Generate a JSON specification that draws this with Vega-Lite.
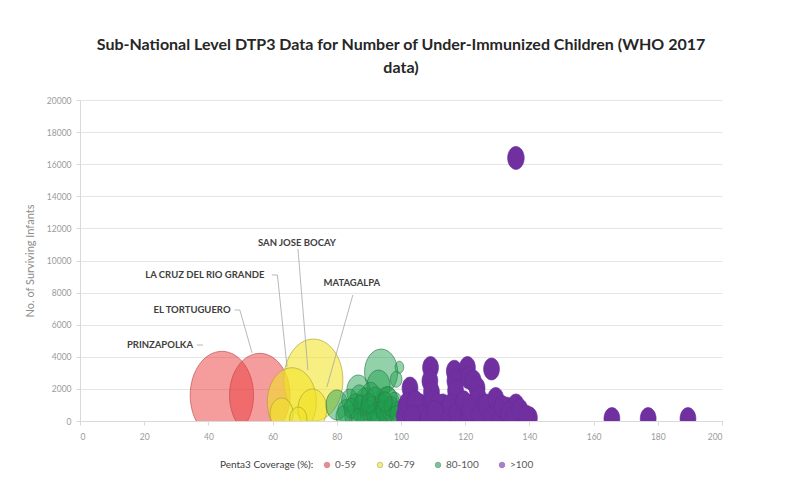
{
  "$schema": "https://vega.github.io/schema/vega-lite/v6.json",
  "autosize": "none",
  "width": 642,
  "height": 321,
  "padding": {"left": 80, "top": 100, "right": 69, "bottom": 67},
  "background": "white",
  "title": {
    "text": ["Sub-National Level DTP3 Data for Number of Under-Immunized Children (WHO 2017", "data)"],
    "font": "Lato",
    "fontSize": 16,
    "fontWeight": "bold",
    "color": "#262626",
    "anchor": "middle",
    "offset": 20,
    "lineHeight": 23
  },
  "datasets": {
    "bubbles": [
      {"region": "PRINZAPOLKA", "coverage": 44.2, "infants": 1600, "underImmunized": 1936, "group": "0-59"},
      {"region": "EL TORTUGUERO", "coverage": 56, "infants": 1600, "underImmunized": 1764, "group": "0-59"},
      {"region": "SAN JOSE BOCAY", "coverage": 72.7, "infants": 2550, "underImmunized": 1681, "group": "60-79"},
      {"region": "LA CRUZ DEL RIO GRANDE", "coverage": 66, "infants": 1200, "underImmunized": 1156, "group": "60-79"},
      {"region": "MATAGALPA", "coverage": 72.4, "infants": 750, "underImmunized": 400, "group": "60-79"},
      {"region": "", "coverage": 62.8, "infants": 440, "underImmunized": 256, "group": "60-79"},
      {"region": "", "coverage": 68, "infants": 120, "underImmunized": 144, "group": "60-79"},
      {"region": "", "coverage": 93.8, "infants": 3050, "underImmunized": 529, "group": "80-100"},
      {"region": "", "coverage": 95.5, "infants": 1000, "underImmunized": 324, "group": "80-100"},
      {"region": "", "coverage": 86.7, "infants": 1870, "underImmunized": 256, "group": "80-100"},
      {"region": "", "coverage": 93, "infants": 2180, "underImmunized": 256, "group": "80-100"},
      {"region": "", "coverage": 80, "infants": 1000, "underImmunized": 225, "group": "80-100"},
      {"region": "", "coverage": 98.5, "infants": 2600, "underImmunized": 64, "group": "80-100"},
      {"region": "", "coverage": 99.5, "infants": 3350, "underImmunized": 36, "group": "80-100"},
      {"region": "", "coverage": 89, "infants": 1200, "underImmunized": 196, "group": "80-100"},
      {"region": "", "coverage": 90.5, "infants": 1600, "underImmunized": 169, "group": "80-100"},
      {"region": "", "coverage": 86, "infants": 900, "underImmunized": 169, "group": "80-100"},
      {"region": "", "coverage": 92, "infants": 1300, "underImmunized": 169, "group": "80-100"},
      {"region": "", "coverage": 83, "infants": 600, "underImmunized": 144, "group": "80-100"},
      {"region": "", "coverage": 88, "infants": 500, "underImmunized": 144, "group": "80-100"},
      {"region": "", "coverage": 91, "infants": 800, "underImmunized": 144, "group": "80-100"},
      {"region": "", "coverage": 94, "infants": 900, "underImmunized": 144, "group": "80-100"},
      {"region": "", "coverage": 96, "infants": 1400, "underImmunized": 144, "group": "80-100"},
      {"region": "", "coverage": 87, "infants": 1500, "underImmunized": 144, "group": "80-100"},
      {"region": "", "coverage": 85, "infants": 300, "underImmunized": 121, "group": "80-100"},
      {"region": "", "coverage": 90, "infants": 300, "underImmunized": 121, "group": "80-100"},
      {"region": "", "coverage": 93, "infants": 500, "underImmunized": 121, "group": "80-100"},
      {"region": "", "coverage": 96.5, "infants": 700, "underImmunized": 121, "group": "80-100"},
      {"region": "", "coverage": 98, "infants": 1100, "underImmunized": 121, "group": "80-100"},
      {"region": "", "coverage": 84, "infants": 1300, "underImmunized": 121, "group": "80-100"},
      {"region": "", "coverage": 95, "infants": 200, "underImmunized": 100, "group": "80-100"},
      {"region": "", "coverage": 97.5, "infants": 300, "underImmunized": 100, "group": "80-100"},
      {"region": "", "coverage": 99, "infants": 600, "underImmunized": 100, "group": "80-100"},
      {"region": "", "coverage": 82, "infants": 300, "underImmunized": 100, "group": "80-100"},
      {"region": "", "coverage": 88.5, "infants": 100, "underImmunized": 100, "group": "80-100"},
      {"region": "", "coverage": 92.5, "infants": 150, "underImmunized": 100, "group": "80-100"},
      {"region": "", "coverage": 84.5, "infants": 800, "underImmunized": 100, "group": "80-100"},
      {"region": "", "coverage": 87.5, "infants": 1000, "underImmunized": 100, "group": "80-100"},
      {"region": "", "coverage": 89.5, "infants": 700, "underImmunized": 100, "group": "80-100"},
      {"region": "", "coverage": 91.5, "infants": 400, "underImmunized": 100, "group": "80-100"},
      {"region": "", "coverage": 94.5, "infants": 600, "underImmunized": 100, "group": "80-100"},
      {"region": "", "coverage": 97, "infants": 900, "underImmunized": 100, "group": "80-100"},
      {"region": "", "coverage": 98.5, "infants": 400, "underImmunized": 81, "group": "80-100"},
      {"region": "", "coverage": 86.5, "infants": 200, "underImmunized": 81, "group": "80-100"},
      {"region": "", "coverage": 90, "infants": 1100, "underImmunized": 100, "group": "80-100"},
      {"region": "", "coverage": 95, "infants": 1200, "underImmunized": 100, "group": "80-100"},
      {"region": "", "coverage": 101, "infants": 300, "underImmunized": 121, "group": ">100"},
      {"region": "", "coverage": 101.5, "infants": 900, "underImmunized": 121, "group": ">100"},
      {"region": "", "coverage": 102.8, "infants": 2050, "underImmunized": 121, "group": ">100"},
      {"region": "", "coverage": 103, "infants": 1400, "underImmunized": 121, "group": ">100"},
      {"region": "", "coverage": 104, "infants": 600, "underImmunized": 121, "group": ">100"},
      {"region": "", "coverage": 105, "infants": 200, "underImmunized": 121, "group": ">100"},
      {"region": "", "coverage": 106, "infants": 1000, "underImmunized": 121, "group": ">100"},
      {"region": "", "coverage": 107, "infants": 400, "underImmunized": 121, "group": ">100"},
      {"region": "", "coverage": 108, "infants": 800, "underImmunized": 121, "group": ">100"},
      {"region": "", "coverage": 109.2, "infants": 3330, "underImmunized": 121, "group": ">100"},
      {"region": "", "coverage": 109, "infants": 2500, "underImmunized": 121, "group": ">100"},
      {"region": "", "coverage": 109.5, "infants": 1800, "underImmunized": 121, "group": ">100"},
      {"region": "", "coverage": 110, "infants": 1200, "underImmunized": 121, "group": ">100"},
      {"region": "", "coverage": 111, "infants": 300, "underImmunized": 121, "group": ">100"},
      {"region": "", "coverage": 112, "infants": 700, "underImmunized": 121, "group": ">100"},
      {"region": "", "coverage": 113, "infants": 1000, "underImmunized": 121, "group": ">100"},
      {"region": "", "coverage": 114, "infants": 200, "underImmunized": 121, "group": ">100"},
      {"region": "", "coverage": 115, "infants": 600, "underImmunized": 121, "group": ">100"},
      {"region": "", "coverage": 116.6, "infants": 3100, "underImmunized": 121, "group": ">100"},
      {"region": "", "coverage": 116.8, "infants": 2500, "underImmunized": 121, "group": ">100"},
      {"region": "", "coverage": 117, "infants": 1900, "underImmunized": 121, "group": ">100"},
      {"region": "", "coverage": 118, "infants": 900, "underImmunized": 121, "group": ">100"},
      {"region": "", "coverage": 118.5, "infants": 300, "underImmunized": 121, "group": ">100"},
      {"region": "", "coverage": 119.5, "infants": 700, "underImmunized": 121, "group": ">100"},
      {"region": "", "coverage": 120.7, "infants": 3330, "underImmunized": 121, "group": ">100"},
      {"region": "", "coverage": 121, "infants": 2700, "underImmunized": 121, "group": ">100"},
      {"region": "", "coverage": 122.5, "infants": 2500, "underImmunized": 121, "group": ">100"},
      {"region": "", "coverage": 122, "infants": 1000, "underImmunized": 121, "group": ">100"},
      {"region": "", "coverage": 123, "infants": 400, "underImmunized": 121, "group": ">100"},
      {"region": "", "coverage": 123.7, "infants": 2050, "underImmunized": 121, "group": ">100"},
      {"region": "", "coverage": 124, "infants": 1500, "underImmunized": 121, "group": ">100"},
      {"region": "", "coverage": 125, "infants": 800, "underImmunized": 121, "group": ">100"},
      {"region": "", "coverage": 126, "infants": 200, "underImmunized": 121, "group": ">100"},
      {"region": "", "coverage": 127, "infants": 600, "underImmunized": 121, "group": ">100"},
      {"region": "", "coverage": 128.2, "infants": 3240, "underImmunized": 121, "group": ">100"},
      {"region": "", "coverage": 128.5, "infants": 1000, "underImmunized": 121, "group": ">100"},
      {"region": "", "coverage": 129.5, "infants": 300, "underImmunized": 121, "group": ">100"},
      {"region": "", "coverage": 130.5, "infants": 700, "underImmunized": 121, "group": ">100"},
      {"region": "", "coverage": 132, "infants": 400, "underImmunized": 121, "group": ">100"},
      {"region": "", "coverage": 133, "infants": 800, "underImmunized": 121, "group": ">100"},
      {"region": "", "coverage": 134, "infants": 200, "underImmunized": 121, "group": ">100"},
      {"region": "", "coverage": 135.8, "infants": 1000, "underImmunized": 121, "group": ">100"},
      {"region": "", "coverage": 136.5, "infants": 400, "underImmunized": 121, "group": ">100"},
      {"region": "", "coverage": 138, "infants": 300, "underImmunized": 121, "group": ">100"},
      {"region": "", "coverage": 140, "infants": 200, "underImmunized": 121, "group": ">100"},
      {"region": "", "coverage": 102, "infants": 1100, "underImmunized": 121, "group": ">100"},
      {"region": "", "coverage": 104.5, "infants": 1200, "underImmunized": 121, "group": ">100"},
      {"region": "", "coverage": 106.5, "infants": 300, "underImmunized": 121, "group": ">100"},
      {"region": "", "coverage": 108.5, "infants": 200, "underImmunized": 121, "group": ">100"},
      {"region": "", "coverage": 111.5, "infants": 1000, "underImmunized": 121, "group": ">100"},
      {"region": "", "coverage": 113.5, "infants": 500, "underImmunized": 121, "group": ">100"},
      {"region": "", "coverage": 115.5, "infants": 1000, "underImmunized": 121, "group": ">100"},
      {"region": "", "coverage": 117.5, "infants": 500, "underImmunized": 121, "group": ">100"},
      {"region": "", "coverage": 119.5, "infants": 1200, "underImmunized": 121, "group": ">100"},
      {"region": "", "coverage": 121, "infants": 300, "underImmunized": 121, "group": ">100"},
      {"region": "", "coverage": 121.5, "infants": 700, "underImmunized": 121, "group": ">100"},
      {"region": "", "coverage": 124.5, "infants": 400, "underImmunized": 121, "group": ">100"},
      {"region": "", "coverage": 126.5, "infants": 1000, "underImmunized": 121, "group": ">100"},
      {"region": "", "coverage": 128, "infants": 200, "underImmunized": 121, "group": ">100"},
      {"region": "", "coverage": 129.5, "infants": 1400, "underImmunized": 121, "group": ">100"},
      {"region": "", "coverage": 131, "infants": 300, "underImmunized": 121, "group": ">100"},
      {"region": "", "coverage": 131.5, "infants": 900, "underImmunized": 121, "group": ">100"},
      {"region": "", "coverage": 133.5, "infants": 500, "underImmunized": 121, "group": ">100"},
      {"region": "", "coverage": 135, "infants": 300, "underImmunized": 121, "group": ">100"},
      {"region": "", "coverage": 137, "infants": 700, "underImmunized": 121, "group": ">100"},
      {"region": "", "coverage": 139, "infants": 300, "underImmunized": 121, "group": ">100"},
      {"region": "", "coverage": 110.5, "infants": 600, "underImmunized": 121, "group": ">100"},
      {"region": "", "coverage": 103.5, "infants": 300, "underImmunized": 121, "group": ">100"},
      {"region": "", "coverage": 165.7, "infants": 150, "underImmunized": 121, "group": ">100"},
      {"region": "", "coverage": 177, "infants": 150, "underImmunized": 121, "group": ">100"},
      {"region": "", "coverage": 189.4, "infants": 150, "underImmunized": 121, "group": ">100"},
      {"region": "", "coverage": 135.8, "infants": 16390, "underImmunized": 132, "group": ">100"}
    ],
    "leaders": [
      {"region": "SAN JOSE BOCAY", "coverage": 67.9, "infants": 10716, "coverageEnd": 71.0, "infantsEnd": 3178},
      {"region": "LA CRUZ DEL RIO GRANDE", "coverage": 59.8, "infants": 9097, "coverageEnd": 61.5, "infantsEnd": 9097},
      {"region": "LA CRUZ DEL RIO GRANDE", "coverage": 61.5, "infants": 9097, "coverageEnd": 64.5, "infantsEnd": 3364},
      {"region": "MATAGALPA", "coverage": 85.0, "infants": 7850, "coverageEnd": 76.9, "infantsEnd": 2118},
      {"region": "EL TORTUGUERO", "coverage": 48.2, "infants": 6916, "coverageEnd": 49.8, "infantsEnd": 6916},
      {"region": "EL TORTUGUERO", "coverage": 49.8, "infants": 6916, "coverageEnd": 53.6, "infantsEnd": 4237},
      {"region": "PRINZAPOLKA", "coverage": 36.4, "infants": 4735, "coverageEnd": 38.3, "infantsEnd": 4735}
    ],
    "labels": [
      {"region": "SAN JOSE BOCAY", "coverage": 67.6, "infants": 11090},
      {"region": "LA CRUZ DEL RIO GRANDE", "coverage": 38.9, "infants": 9097},
      {"region": "MATAGALPA", "coverage": 84.7, "infants": 8598},
      {"region": "EL TORTUGUERO", "coverage": 34.9, "infants": 6916},
      {"region": "PRINZAPOLKA", "coverage": 24.9, "infants": 4735}
    ]
  },
  "encoding": {
    "x": {
      "field": "coverage", "type": "quantitative",
      "scale": {"domain": [0, 200], "nice": false},
      "axis": {"values": [0, 20, 40, 60, 80, 100, 120, 140, 160, 180, 200], "tickCount": 30, "title": null, "grid": false, "format": "d", "labelOverlap": false}
    },
    "y": {
      "field": "infants", "type": "quantitative",
      "scale": {"domain": [0, 20000], "nice": false},
      "axis": {"values": [0, 2000, 4000, 6000, 8000, 10000, 12000, 14000, 16000, 18000, 20000], "tickCount": 30, "title": "No. of Surviving Infants", "grid": true, "format": "d", "labelOverlap": false}
    }
  },
  "layer": [
    {
      "data": {"name": "bubbles"},
      "mark": {
        "type": "point",
        "filled": true,
        "clip": true,
        "opacity": 1,
        "shape": "M-0.72,0A0.72,1,0,1,0,0.72,0A0.72,1,0,1,0,-0.72,0Z",
        "strokeWidth": 0.8,
        "strokeOpacity": 0.8
      },
      "encoding": {
        "size": {
          "field": "underImmunized", "type": "quantitative",
          "scale": {"type": "linear", "domain": [0, 2000], "range": [0, 8000], "zero": true},
          "legend": null
        },
        "fill": {
          "field": "group", "type": "nominal",
          "scale": {"domain": ["0-59", "60-79", "80-100", ">100"], "range": ["#EC3A3A", "#F2E427", "#1E9E4E", "#7030A0"]},
          "legend": {"title": "Penta3 Coverage (%):"}
        },
        "stroke": {
          "field": "group", "type": "nominal",
          "scale": {"domain": ["0-59", "60-79", "80-100", ">100"], "range": ["#B84A4A", "#A8A030", "#2F7A4A", "#6A2C9C"]},
          "legend": {"title": "Penta3 Coverage (%):"}
        },
        "fillOpacity": {
          "condition": [
            {"test": "datum.group === '>100'", "value": 1},
            {"test": "datum.group === '60-79'", "value": 0.58},
            {"test": "datum.group === '80-100'", "value": 0.48}
          ],
          "value": 0.5
        }
      }
    },
    {
      "data": {"name": "leaders"},
      "mark": {"type": "rule", "color": "#a6a6a6", "strokeWidth": 0.8},
      "encoding": {
        "x2": {"field": "coverageEnd"},
        "y2": {"field": "infantsEnd"}
      }
    },
    {
      "data": {"name": "labels"},
      "mark": {"type": "text", "font": "Lato", "fontSize": 9.5, "fontWeight": "bold", "color": "#404040", "align": "center", "baseline": "middle"},
      "encoding": {
        "text": {"field": "region"}
      }
    }
  ],
  "config": {
    "font": "Lato",
    "view": {"stroke": null},
    "axis": {
      "labelColor": "#9a9a9a",
      "labelFontSize": 8.5,
      "labelFont": "Lato",
      "gridColor": "#dedede",
      "gridWidth": 0.8,
      "domainColor": "#d9d9d9",
      "tickColor": "#d9d9d9",
      "tickSize": 4,
      "titleColor": "#8c8c8c",
      "titleFontSize": 11,
      "titleFontWeight": "normal",
      "titleFont": "Lato"
    },
    "axisY": {"titlePadding": 11, "labelPadding": 5},
    "axisX": {"labelPadding": 7},
    "legend": {
      "orient": "none",
      "legendX": 140,
      "legendY": 360,
      "direction": "horizontal",
      "titleOrient": "left",
      "titleFontSize": 10,
      "titleFontWeight": "normal",
      "titleColor": "#404040",
      "titleFont": "Lato",
      "labelFontSize": 10,
      "labelColor": "#595959",
      "labelFont": "Lato",
      "symbolType": "circle",
      "symbolSize": 30,
      "symbolStrokeWidth": 1,
      "symbolOpacity": 0.6,
      "columnPadding": 18,
      "labelOffset": 3,
      "titlePadding": 8
    }
  }
}
